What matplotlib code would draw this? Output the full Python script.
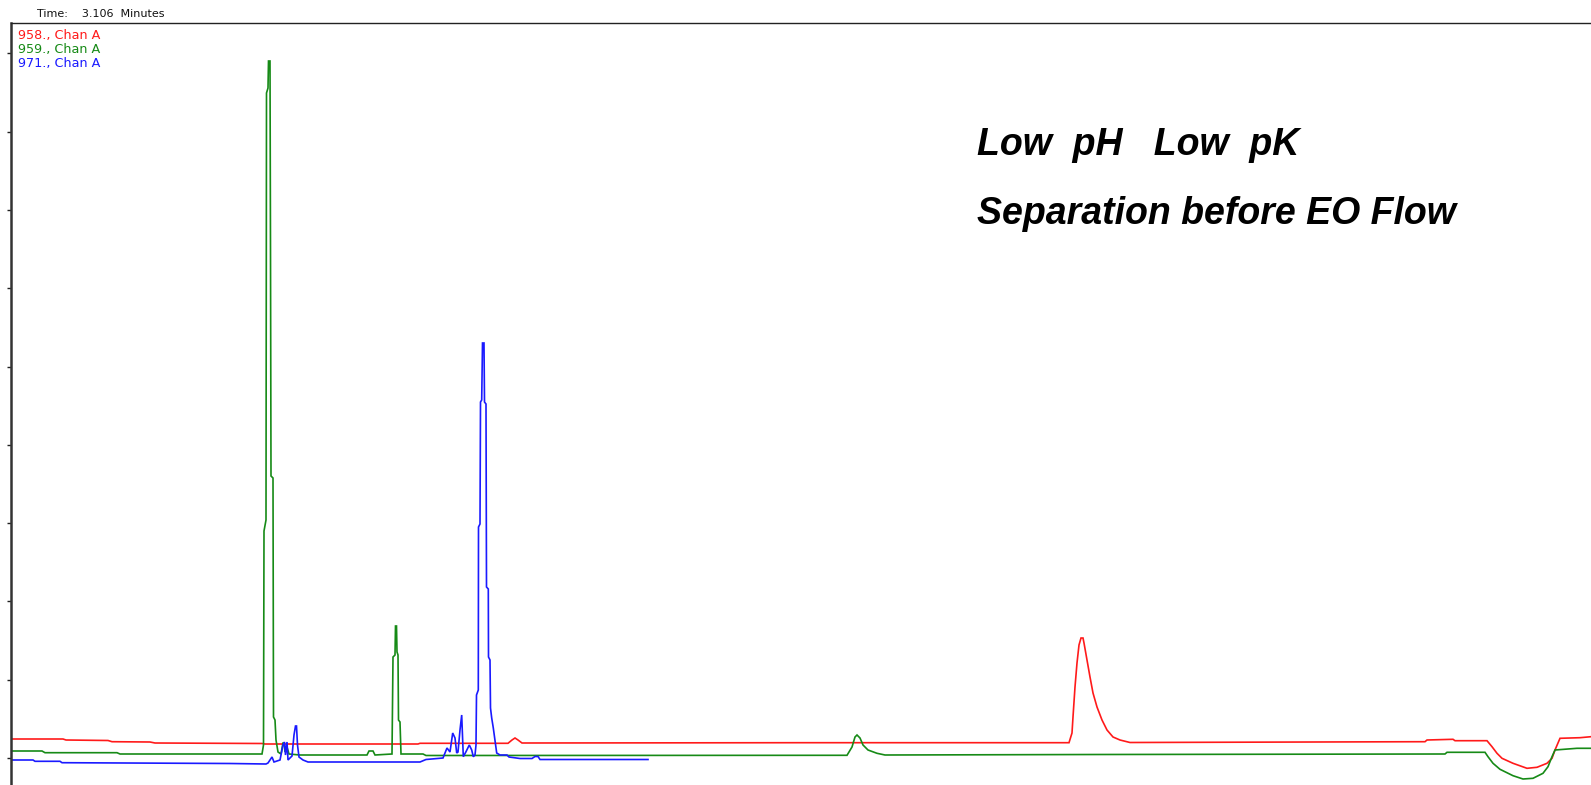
import numpy as np
import matplotlib
matplotlib.use("Agg")
import matplotlib.pyplot as plt

# time in minutes, signal in arbitrary detector units
red_t = [0.00, 0.52, 0.55, 0.97, 1.01, 1.39, 1.44, 2.51, 2.54, 4.07, 4.09, 4.97, 5.01, 5.04,
         5.07, 5.11, 7.89, 10.58, 10.61, 10.62, 10.64, 10.66, 10.68, 10.70, 10.72, 10.73,
         10.76, 10.79, 10.82, 10.86, 10.91, 10.96, 11.02, 11.09, 11.19, 14.14, 14.16, 14.42,
         14.44, 14.76, 14.81, 14.86, 14.91, 15.02, 15.16, 15.26, 15.36, 15.41, 15.44, 15.49,
         15.69, 15.80]
red_y = [19, 19, 18, 17.5, 16.3, 16, 15, 14.5, 14, 14, 14.7, 14.7, 18, 20,
         18, 15, 15.3, 15.3, 25, 41, 71, 95, 113, 120, 120, 115,
         98, 81, 65, 51, 38, 28, 21, 18, 15.5, 16.3, 18, 18.7,
         17.3, 17.3, 11.3, 4.7, -0.3, -5.3, -10.3, -9.3, -5.3, -0.3, 8, 19.7,
         20.3, 21.3]

green_t = [0.00, 0.31, 0.34, 1.06, 1.09, 2.51, 2.525, 2.53, 2.55, 2.555, 2.57, 2.575, 2.59,
           2.595, 2.60, 2.62, 2.625, 2.64, 2.65, 2.67, 2.70, 2.72, 2.73, 2.74, 2.76, 2.78,
           2.89, 3.56, 3.58, 3.62, 3.64, 3.81, 3.82, 3.84, 3.845, 3.855, 3.86, 3.87, 3.875,
           3.89, 3.90, 4.12, 4.15, 8.36, 8.41, 8.44, 8.46, 8.49, 8.52, 8.57, 8.66, 8.74,
           10.89, 14.34, 14.36, 14.74, 14.77, 14.82, 14.89, 15.02, 15.12, 15.22, 15.32,
           15.37, 15.41, 15.44, 15.66, 15.80]
green_y = [7, 7, 5.3, 5.3, 4, 4, 13, 227, 238, 665, 670, 697, 697,
           509, 282, 280, 41, 38, 18, 6, 4, 15, 15, 6, 11, 4,
           3, 3, 7, 7, 3, 4, 101, 103, 132, 132, 106, 103, 38,
           36, 4, 4, 2.5, 2.7, 11, 21, 23, 20, 13, 8, 4.7, 3,
           3.5, 4, 5.7, 5.7, 1.3, -5.3, -11.3, -17.7, -21, -20.3, -15.3,
           -8.7, 1.3, 8, 9.7, 9.7]

blue_t = [0.00, 0.22, 0.24, 0.49, 0.51, 2.19, 2.55, 2.57, 2.61, 2.63, 2.69, 2.72, 2.735,
          2.745, 2.76, 2.77, 2.81, 2.83, 2.845, 2.855, 2.865, 2.88, 2.92, 2.97, 4.09, 4.15,
          4.32, 4.36, 4.39, 4.417, 4.44, 4.457, 4.47, 4.49, 4.507, 4.523, 4.55, 4.583, 4.607,
          4.623, 4.64, 4.65, 4.655, 4.673, 4.675, 4.69, 4.695, 4.707, 4.715, 4.73, 4.735,
          4.75, 4.755, 4.773, 4.775, 4.79, 4.795, 4.807, 4.823, 4.857, 4.89, 4.96, 4.98,
          5.09, 5.21, 5.24, 5.27, 5.29, 6.37]
blue_y = [-2, -2, -3.3, -3.3, -4.7, -5.5, -6, -5, 1, -4, -2, 13, 16,
          3, 16, -2, 2, 23, 32, 32, 13, 1, -2, -4, -4, -1.5,
          0, 10, 6, 25, 20, 5, 6, 28, 43, 1.3, 6.3, 13, 8,
          1.3, 3, 13, 63, 68, 231, 234, 356, 358, 415, 415, 356,
          354, 171, 169, 101, 98, 50, 40, 30, 5, 3, 3, 1,
          -0.5, -0.5, 1.5, 1.5, -1.5, -1.5]

trace_names = ["958., Chan A", "959., Chan A", "971., Chan A"]
trace_colors = ["#ff1a1a", "#168a16", "#1a1aff"]

W, H = 1591, 785
fig = plt.figure(figsize=(W / 100, H / 100), dpi=100)
ax = fig.add_axes([11 / W, 0, 1580 / W, 762 / H])

for t, y, c in zip([red_t, green_t, blue_t], [red_y, green_y, blue_y], trace_colors):
    ax.plot(t, y, color=c, lw=1.2, solid_joinstyle="miter")

ax.set_xlim(0, 15.80)
ax.set_ylim(-27, 735)
ax.set_yticks(np.arange(10) * 78.3)
ax.set_yticklabels([])
ax.set_xticks([])
ax.tick_params(axis="y", direction="out", length=3, width=1, color="#222222")

ax.spines["right"].set_visible(False)
ax.spines["bottom"].set_visible(False)
ax.spines["left"].set_linewidth(1.8)
ax.spines["left"].set_color("#333333")
ax.spines["top"].set_linewidth(1.0)
ax.spines["top"].set_color("#222222")


def px(x, y):
    return x / W, 1 - y / H


fig.text(*px(37, 14), "Time:    3.106  Minutes", fontsize=8, va="center", ha="left",
         color="#111111")
for i, (name, c) in enumerate(zip(trace_names, trace_colors)):
    fig.text(*px(18, 36 + 13.7 * i), name, fontsize=9.2, color=c, va="center", ha="left")

big = dict(fontsize=27, fontweight="bold", fontstyle="italic", family="Liberation Sans",
           color="black", va="center", ha="left")
fig.text(*px(977, 145), "Low  pH   Low  pK", **big)
fig.text(*px(977, 214), "Separation before EO Flow", **big)

fig.savefig("out.png", dpi=100)
